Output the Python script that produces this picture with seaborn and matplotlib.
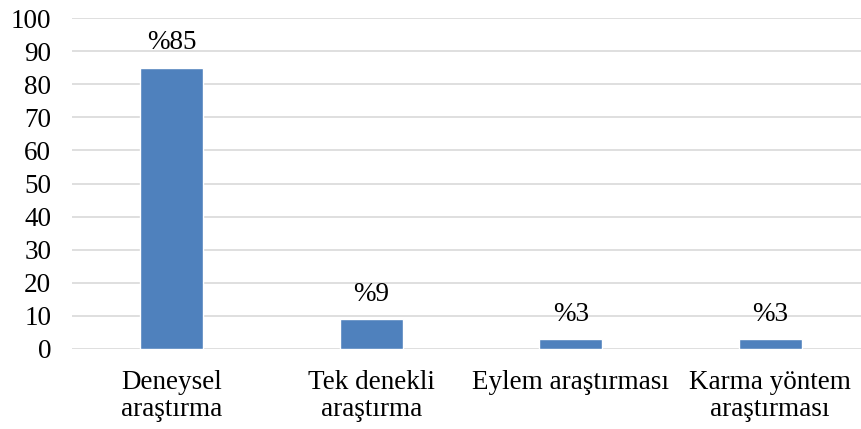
import matplotlib
matplotlib.use("Agg")
import matplotlib.pyplot as plt
import seaborn as sns
import pandas as pd

categories = ["Deneysel\naraştırma", "Tek denekli\naraştırma", "Eylem araştırması", "Karma yöntem\naraştırması"]
values = [85, 9, 3, 3]
labels = ["%85", "%9", "%3", "%3"]

sns.set_theme(style="white")
plt.rcParams['font.family'] = ['Liberation Serif', 'DejaVu Serif']

df = pd.DataFrame({"kategori": categories, "oran": values})

fig = plt.figure(figsize=(8.61, 4.29), dpi=100)
ax = fig.add_axes([0.0836, 0.1865, 0.9164, 0.7715])

sns.barplot(data=df, x="kategori", y="oran", color="#4F81BD", saturation=1,
            width=0.316, ax=ax, zorder=3)

ax.set_ylim(0, 100)
ax.set_xlim(-0.5, 3.455)
ax.set_yticks(range(0, 101, 10))
ax.yaxis.grid(True, color="#D9D9D9", linewidth=1.2, zorder=0)
ax.xaxis.grid(False)
for s in ax.spines.values():
    s.set_visible(False)
ax.set_xlabel("")
ax.set_ylabel("")
ax.tick_params(axis="both", length=0, labelsize=19.5, colors="black")
ax.tick_params(axis="x", pad=15)
ax.tick_params(axis="y", pad=15)
for t in ax.get_xticklabels():
    t.set_linespacing(1.12)

for i, (v, t) in enumerate(zip(values, labels)):
    ax.annotate(t, (i, v), xytext=(0, 9), textcoords="offset points",
                ha="center", va="bottom", fontsize=19.5, color="black")

fig.savefig("out.png", dpi=100)
